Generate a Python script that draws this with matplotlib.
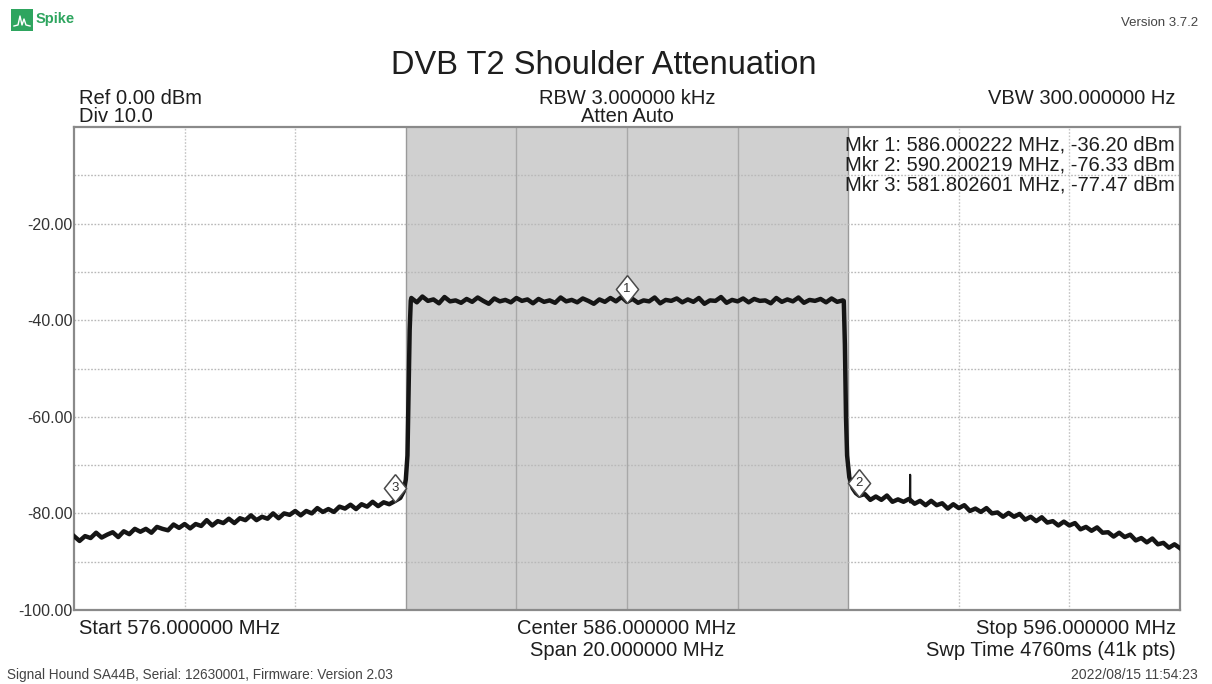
import numpy as np
import matplotlib
matplotlib.use('Agg')
import matplotlib.pyplot as plt
from matplotlib.transforms import offset_copy
from matplotlib.patches import Rectangle

plt.rcParams['font.family'] = ['Liberation Sans', 'DejaVu Sans']

# --- trace (MHz, dBm) ---
left_freq = np.round(np.linspace(576.0, 581.8, 59), 2)
left_level = [
    -84.7, -85.7, -84.7, -85.1, -84.0, -85.0, -84.4, -83.9, -84.9, -83.7,
    -84.3, -83.2, -83.8, -83.2, -84.0, -82.8, -83.2, -83.5, -82.3, -83.0,
    -82.2, -83.1, -82.2, -82.6, -81.4, -82.5, -81.6, -82.0, -81.1, -82.0,
    -81.0, -81.4, -80.4, -81.4, -80.7, -81.1, -80.0, -81.0, -80.0, -80.3,
    -79.5, -80.4, -79.5, -80.0, -78.9, -79.7, -79.1, -79.7, -78.6, -79.0,
    -78.2, -79.1, -78.1, -78.6, -77.6, -78.5, -77.7, -78.1, -77.47,
]
rise_freq = [581.9, 581.96, 582.0, 582.03, 582.05, 582.07, 582.09]
rise_level = [-76.8, -75.5, -73.0, -68.0, -55.0, -42.0, -36.0]

top_freq = np.round(np.linspace(582.1, 589.9, 79), 2)
top_level = [
    -35.4, -36.3, -35.1, -36.0, -35.7, -36.5, -35.2, -36.1, -35.9, -36.4,
    -35.6, -36.2, -35.3, -36.0, -36.6, -35.5, -36.1, -35.8, -36.3, -35.4,
    -36.0, -35.7, -36.5, -35.6, -36.2, -35.9, -36.4, -35.3, -36.1, -35.8,
    -36.3, -35.5, -36.0, -36.6, -35.7, -36.2, -35.4, -36.1, -35.2, -36.2,
    -35.6, -36.4, -35.9, -36.1, -35.3, -36.5, -35.8, -36.0, -35.5, -36.3,
    -35.7, -36.2, -35.4, -36.6, -35.9, -36.0, -35.2, -36.4, -35.8, -36.1,
    -35.5, -36.3, -35.6, -36.0, -35.9, -36.5, -35.4, -36.2, -35.7, -36.1,
    -35.3, -36.4, -35.8, -36.0, -35.6, -36.3, -35.5, -36.2, -35.9,
]
fall_freq = [589.92, 589.94, 589.96, 589.98, 590.02, 590.08, 590.14, 590.2]
fall_level = [-36.0, -45.0, -60.0, -68.0, -72.5, -74.8, -75.8, -76.33]

right_freq = np.round(np.linspace(590.3, 596.0, 58), 2)
right_level = [
    -76.0, -77.2, -76.5, -77.2, -76.3, -77.6, -77.1, -77.6,
    -77.0, -78.0, -77.4, -78.3, -77.4, -78.3, -77.9, -79.0, -78.1, -78.9,
    -78.3, -79.5, -79.0, -79.7, -78.9, -80.0, -79.8, -80.7, -79.9, -80.7,
    -80.1, -81.3, -80.7, -81.6, -80.8, -81.9, -81.6, -82.5, -81.7, -82.5,
    -82.0, -83.3, -82.8, -83.6, -82.9, -84.0, -83.9, -84.8, -84.0, -84.9,
    -84.4, -85.6, -85.1, -86.0, -85.2, -86.4, -86.1, -87.1, -86.4, -87.2,
]
spur_freq = [591.115, 591.12, 591.125]
spur_level = [-77.5, -72.0, -77.7]

mkr_id = ['1', '2', '3']
mkr_freq = [586.000222, 590.200219, 581.802601]
mkr_level = [-36.20, -76.33, -77.47]

freq = np.concatenate([left_freq, rise_freq, top_freq, fall_freq, right_freq])
level = np.concatenate([left_level, rise_level, top_level, fall_level, right_level])

W, H = 1212, 684
fig = plt.figure(figsize=(W / 100, H / 100), dpi=100)
fig.patch.set_facecolor('white')


def fx(x):
    return x / W


def fy(y):
    return 1 - y / H


ax = fig.add_axes([fx(74), fy(610), (1180 - 74) / W, (610 - 127) / H])
ax.set_xlim(576, 596)
ax.set_ylim(-100, 0)

# channel shading + grid
ax.axvspan(582, 590, color='#d0d0d0', zorder=0, lw=0)
ax.axvline(582, color='#9a9a9a', lw=1, zorder=1)
ax.axvline(590, color='#9a9a9a', lw=1, zorder=1)
for g in np.arange(-90, 0, 10):
    ax.axhline(g, color='#b8b8b8', lw=1, ls=(0, (1.2, 1.2)), zorder=1)
for g in np.arange(578, 596, 2):
    if 582 < g < 590:
        ax.axvline(g, color='#a8a8a8', lw=1, zorder=1)
    elif g not in (582, 590):
        ax.axvline(g, color='#c4c4c4', lw=1, ls=(0, (1.2, 1.2)), zorder=1)

ax.plot(freq, level, color='#151515', lw=3.2, zorder=3, solid_joinstyle='round')
ax.plot(spur_freq, spur_level, color='#151515', lw=1.5, zorder=3)

# marker diamonds sitting on the trace
diamond = [(0, 1), (0.8, 0), (0, -1), (-0.8, 0), (0, 1)]
up = offset_copy(ax.transData, fig=fig, x=0, y=13, units='dots')
for m, f, l in zip(mkr_id, mkr_freq, mkr_level):
    ax.plot([f], [l], marker=diamond, ms=20, mfc='white', mec='#4a4a4a',
            mew=1.1, transform=up, zorder=5, clip_on=False)
    ax.text(f, l, m, transform=up, ha='center', va='center', fontsize=9.5,
            color='#333333', zorder=6)

ax.set_xticks([])
ax.set_yticks([-20, -40, -60, -80, -100])
ax.set_yticklabels(['-20.00', '-40.00', '-60.00', '-80.00', '-100.00'])
ax.tick_params(axis='y', length=0, pad=1, labelsize=11.5, labelcolor='#333333')
for s in ax.spines.values():
    s.set_color('#8a8a8a')
    s.set_linewidth(1.6)

# marker readout
for i, (m, f, l) in enumerate(zip(mkr_id, mkr_freq, mkr_level)):
    fig.text(fx(1175), fy(145 + i * 20), f'Mkr {m}: {f:.6f} MHz, {l:.2f} dBm',
             ha='right', va='center', fontsize=14.5, color='#1e1e1e')

txt = dict(fontsize=14.5, color='#1e1e1e', va='center')
fig.text(fx(604), fy(66), 'DVB T2 Shoulder Attenuation', ha='center', va='center',
         fontsize=23.5, color='#1e1e1e')
fig.text(fx(79), fy(98), 'Ref 0.00 dBm', ha='left', **txt)
fig.text(fx(79), fy(117), 'Div 10.0', ha='left', **txt)
fig.text(fx(627), fy(98), 'RBW 3.000000 kHz', ha='center', **txt)
fig.text(fx(627), fy(117), 'Atten Auto', ha='center', **txt)
fig.text(fx(1176), fy(98), 'VBW 300.000000 Hz', ha='right', **txt)
fig.text(fx(79), fy(629), 'Start 576.000000 MHz', ha='left', **txt)
fig.text(fx(627), fy(629), 'Center 586.000000 MHz', ha='center', **txt)
fig.text(fx(627), fy(651), 'Span 20.000000 MHz', ha='center', **txt)
fig.text(fx(1176), fy(629), 'Stop 596.000000 MHz', ha='right', **txt)
fig.text(fx(1176), fy(651), 'Swp Time 4760ms (41k pts)', ha='right', **txt)

fig.text(fx(7), fy(675), 'Signal Hound SA44B, Serial: 12630001, Firmware: Version 2.03',
         ha='left', va='center', fontsize=9.8, color='#444444')
fig.text(fx(1198), fy(675), '2022/08/15 11:54:23', ha='right', va='center',
         fontsize=10, color='#444444')
fig.text(fx(1198), fy(23), 'Version 3.7.2', ha='right', va='center',
         fontsize=9.5, color='#444444')

# Spike logo
fig.patches.append(Rectangle((fx(11), fy(31)), 22 / W, 22 / H, transform=fig.transFigure,
                             facecolor='#2ea55f', edgecolor='none'))
fig.lines.append(plt.Line2D([fx(14), fx(18), fx(20), fx(22), fx(24), fx(26), fx(30)],
                            [fy(26), fy(25), fy(16), fy(25), fy(19), fy(25), fy(26)],
                            transform=fig.transFigure, color='white', lw=1))
fig.text(fx(36), fy(19), 'Spike', ha='left', va='center', fontsize=10.5,
         fontweight='bold', color='#2ea55f')

fig.savefig('out.png', dpi=100)
